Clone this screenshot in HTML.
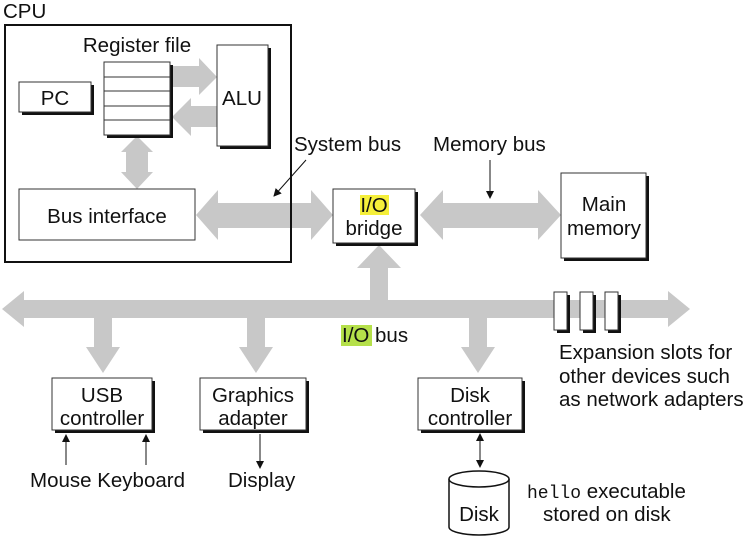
<!DOCTYPE html>
<html><head><style>
html,body{margin:0;padding:0;background:#fff}
svg{display:block}
text{font-family:"Liberation Sans",Arial,sans-serif;font-size:20.5px;fill:#111}
</style></head><body>
<svg width="745" height="541" viewBox="0 0 745 541" xmlns="http://www.w3.org/2000/svg">
<defs>
<marker id="ah" markerWidth="8" markerHeight="8" refX="7" refY="4" orient="auto" markerUnits="userSpaceOnUse">
<path d="M0,0 L8,4 L0,8 z" fill="#111"/></marker>
</defs>
<g fill="#c8c8c8">
<path d="M172,66 L199,66 L199,58 L217,77 L199,95 L199,87 L172,87 z"/>
<path d="M217,106 L191,106 L191,98 L172,117 L191,136 L191,127 L217,127 z"/>
<path d="M126,152 L126,172 L121,172 L137,189 L153,172 L148,172 L148,152 L153,152 L137,136 L121,152 z"/>
<path d="M196,215 L218,190 L218,203 L311,203 L311,190 L333,215 L311,240 L311,228 L218,228 L218,240 z"/>
<path d="M420,215 L443,190 L443,203 L538,203 L538,190 L561,215 L538,240 L538,228 L443,228 L443,240 z"/>
<path d="M370,300 L370,268 L357,268 L379,245 L401,268 L388,268 L388,300 z"/>
<path d="M2,309 L24,291 L24,300 L668,300 L668,291 L690,309 L668,327 L668,318 L24,318 L24,327 z"/>
<path d="M94,318 L94,347 L86,347 L103,373 L120,347 L112,347 L112,318 z"/>
<path d="M247,318 L247,347 L239,347 L256,373 L273,347 L265,347 L265,318 z"/>
<path d="M469,318 L469,347 L461,347 L478,373 L495,347 L487,347 L487,318 z"/>
</g>
<text x="3" y="18">CPU</text>
<rect x="5" y="25" width="286" height="237" fill="none" stroke="#111" stroke-width="2"/>
<text x="137" y="52" text-anchor="middle">Register file</text>
<rect x="107" y="65" width="66" height="73" fill="#111"/>
<rect x="104" y="62" width="66" height="73" fill="#fff" stroke="#333" stroke-width="1"/>
<g stroke="#333" stroke-width="1"><line x1="104" y1="77" x2="170" y2="77"/><line x1="104" y1="91" x2="170" y2="91"/><line x1="104" y1="106" x2="170" y2="106"/><line x1="104" y1="120" x2="170" y2="120"/></g>
<rect x="22" y="85" width="72" height="30" fill="#111"/>
<rect x="19" y="82" width="72" height="30" fill="#fff" stroke="#333"/>
<text x="55" y="105" text-anchor="middle">PC</text>
<rect x="220" y="48" width="51" height="101" fill="#111"/>
<rect x="217" y="45" width="51" height="101" fill="#fff" stroke="#333"/>
<text x="242" y="105" text-anchor="middle">ALU</text>
<rect x="19" y="189" width="176" height="51" fill="#fff" stroke="#333"/>
<text x="107" y="223" text-anchor="middle">Bus interface</text>
<text x="294" y="151">System bus</text>
<line x1="306" y1="160" x2="274" y2="196" stroke="#111" stroke-width="1" marker-end="url(#ah)"/>
<text x="433" y="151">Memory bus</text>
<line x1="490" y1="160" x2="490" y2="198" stroke="#111" stroke-width="1" marker-end="url(#ah)"/>
<rect x="336" y="192" width="82" height="54" fill="#111"/>
<rect x="333" y="189" width="82" height="54" fill="#fff" stroke="#333"/>
<rect x="360" y="195" width="29" height="20" fill="#f5ef3a"/>
<text x="374" y="212" text-anchor="middle">I/O</text>
<text x="374" y="235" text-anchor="middle">bridge</text>
<rect x="564" y="176" width="85" height="85" fill="#111"/>
<rect x="561" y="173" width="85" height="85" fill="#fff" stroke="#333"/>
<text x="604" y="211" text-anchor="middle">Main</text>
<text x="604" y="235" text-anchor="middle">memory</text>
<g>
<rect x="557" y="295" width="13" height="38" fill="#111"/><rect x="554" y="292" width="13" height="38" fill="#fff" stroke="#333"/>
<rect x="583" y="295" width="13" height="38" fill="#111"/><rect x="580" y="292" width="13" height="38" fill="#fff" stroke="#333"/>
<rect x="608" y="295" width="13" height="38" fill="#111"/><rect x="605" y="292" width="13" height="38" fill="#fff" stroke="#333"/>
</g>
<rect x="341" y="325" width="31" height="21" fill="#b5e04a"/>
<text x="342" y="342">I/O bus</text>
<text x="559" y="359">Expansion slots for</text>
<text x="559" y="383">other devices such</text>
<text x="559" y="406">as network adapters</text>
<rect x="55" y="381" width="100" height="52" fill="#111"/>
<rect x="52" y="378" width="100" height="52" fill="#fff" stroke="#333"/>
<text x="102" y="402" text-anchor="middle">USB</text>
<text x="102" y="425" text-anchor="middle">controller</text>
<rect x="203" y="381" width="106" height="52" fill="#111"/>
<rect x="200" y="378" width="106" height="52" fill="#fff" stroke="#333"/>
<text x="253" y="402" text-anchor="middle">Graphics</text>
<text x="253" y="425" text-anchor="middle">adapter</text>
<rect x="421" y="381" width="104" height="52" fill="#111"/>
<rect x="418" y="378" width="104" height="52" fill="#fff" stroke="#333"/>
<text x="470" y="402" text-anchor="middle">Disk</text>
<text x="470" y="425" text-anchor="middle">controller</text>
<g stroke="#111" stroke-width="1">
<line x1="66" y1="465" x2="66" y2="435" marker-end="url(#ah)"/>
<line x1="146" y1="465" x2="146" y2="435" marker-end="url(#ah)"/>
<line x1="260" y1="434" x2="260" y2="468" marker-end="url(#ah)"/>
<line x1="480" y1="450" x2="480" y2="434" marker-end="url(#ah)"/>
<line x1="480" y1="450" x2="480" y2="467" marker-end="url(#ah)"/>
</g>
<text x="30" y="487">Mouse Keyboard</text>
<text x="228" y="487">Display</text>
<path d="M449,479 L449,527 A30,8 0 0 0 509,527 L509,479" fill="#fff" stroke="#111" stroke-width="1.5"/>
<ellipse cx="479" cy="479" rx="30" ry="8" fill="#fff" stroke="#111" stroke-width="1.5"/>
<text x="479" y="521" text-anchor="middle">Disk</text>
<text x="527" y="498"><tspan style="font-family:'Liberation Mono',monospace;font-size:18px">hello</tspan> executable</text>
<text x="543" y="521">stored on disk</text>
</svg>
</body></html>
